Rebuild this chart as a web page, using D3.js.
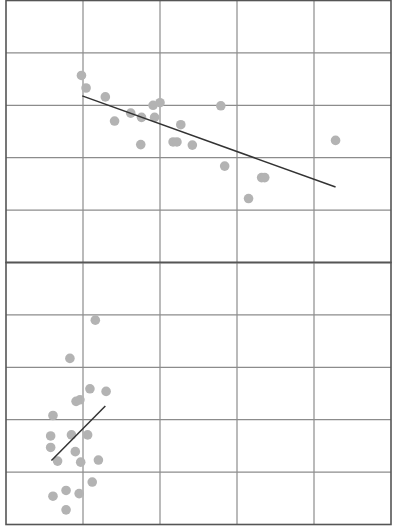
<!DOCTYPE html>
<html>
<head>
<meta charset="utf-8">
<script src="https://cdn.jsdelivr.net/npm/d3@7"></script>
<style>
  body { margin: 0; background: #fff; }
  svg { display: block; }
</style>
</head>
<body>
<div class="canvas"></div>
<script>
// top panel points (grid units, 10 per cell)
const topX = [9.8, 10.4, 12.9, 14.1, 16.2, 17.6, 17.5, 19.1, 20.0, 19.3, 21.7, 22.2, 22.7, 24.2, 27.9, 28.4, 31.5, 33.2, 33.6, 42.8]
const topY = [35.7, 33.3, 31.6, 27.0, 28.5, 27.7, 22.5, 30.0, 30.5, 27.7, 23.0, 23.0, 26.3, 22.4, 29.9, 18.4, 12.2, 16.2, 16.2, 23.3]
const topFit = [[9.9, 31.8], [42.8, 14.4]]

// bottom panel points
const botX = [11.6, 8.3, 10.9, 13.0, 9.1, 9.6, 6.1, 5.8, 8.5, 10.6, 5.8, 9.0, 6.7, 9.7, 12.0, 11.2, 7.8, 6.1, 9.5, 7.8]
const botY = [39.0, 31.7, 25.9, 25.4, 23.5, 23.8, 20.8, 16.9, 17.1, 17.1, 14.7, 13.9, 12.1, 11.9, 12.3, 8.1, 6.5, 5.4, 5.9, 2.8]
const botFit = [[5.9, 12.2], [12.9, 22.6]]

const width = 398, height = 526

const svg = d3.select('.canvas')
    .append('svg')
    .attr('width', width)
    .attr('height', height)

const x = d3.scaleLinear().domain([0, 50]).range([6, 391])

const panels = [
    { xs: topX, ys: topY, fit: topFit, range: [262.5, 0.5] },
    { xs: botX, ys: botY, fit: botFit, range: [524.5, 262.5] }
]

panels.forEach(p => {
    const y = d3.scaleLinear().domain([0, 50]).range(p.range)
    const g = svg.append('g')

    // grid
    g.selectAll('.vgrid')
        .data(x.ticks(5).slice(1, -1))
        .enter().append('line')
        .attr('x1', d => x(d)).attr('x2', d => x(d))
        .attr('y1', y(0)).attr('y2', y(50))
        .attr('stroke', '#8c8c8c').attr('stroke-width', 1.2)

    g.selectAll('.hgrid')
        .data(y.ticks(5).slice(1, -1))
        .enter().append('line')
        .attr('x1', x(0)).attr('x2', x(50))
        .attr('y1', d => y(d)).attr('y2', d => y(d))
        .attr('stroke', '#8c8c8c').attr('stroke-width', 1.2)

    // frame
    g.append('rect')
        .attr('x', x(0)).attr('y', y(50))
        .attr('width', x(50) - x(0)).attr('height', y(0) - y(50))
        .attr('fill', 'none')
        .attr('stroke', '#555').attr('stroke-width', 1.6)

    // points
    g.selectAll('circle')
        .data(d3.zip(p.xs, p.ys))
        .enter().append('circle')
        .attr('cx', d => x(d[0]))
        .attr('cy', d => y(d[1]))
        .attr('r', 4.8)
        .attr('fill', '#b3b3b3')

    // trend line
    g.append('line')
        .attr('x1', x(p.fit[0][0])).attr('y1', y(p.fit[0][1]))
        .attr('x2', x(p.fit[1][0])).attr('y2', y(p.fit[1][1]))
        .attr('stroke', '#333').attr('stroke-width', 1.5)
})
</script>
</body>
</html>
